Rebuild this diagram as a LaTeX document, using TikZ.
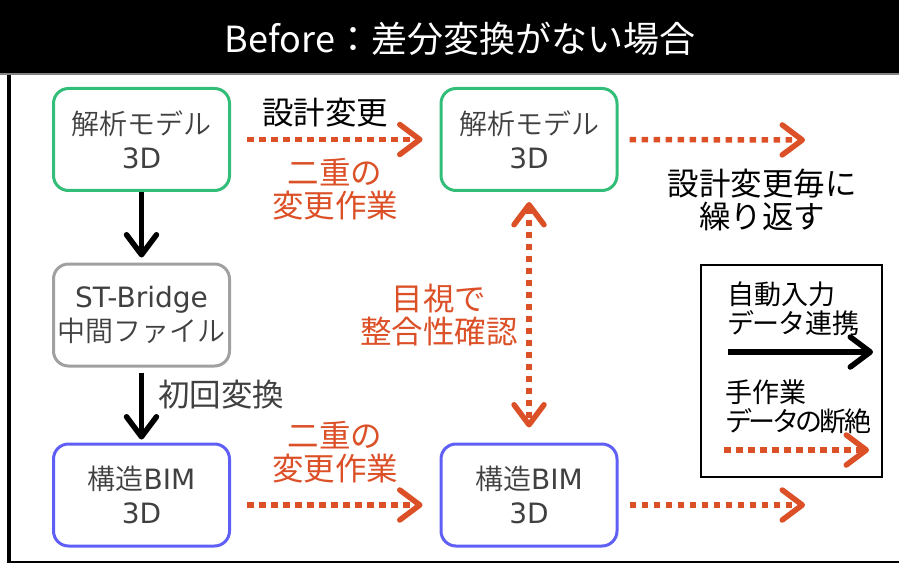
\documentclass[tikz,border=0pt]{standalone}
\usepackage{fontspec}
\setmainfont{Noto Sans CJK JP}
\newfontfamily\boxfont{Noto Sans CJK JP DemiLight}
\newfontfamily\latfont{DejaVu Sans}
\newcommand\mylat[1]{{\latfont #1}}
\usetikzlibrary{arrows.meta}
\definecolor{orng}{RGB}{220,80,40}
\definecolor{grn}{RGB}{50,190,120}
\definecolor{blu}{RGB}{95,95,245}
\definecolor{gbord}{RGB}{160,160,160}
\definecolor{txtgray}{RGB}{64,64,64}
\definecolor{hline}{RGB}{130,130,130}
\begin{document}
\begin{tikzpicture}[x=1pt,y=-1pt,
  box/.style={draw, rounded corners=15pt, line width=3pt, minimum width=176pt,
    minimum height=102pt, align=center, text=txtgray, inner sep=0pt,
    font=\boxfont\fontsize{28}{34}\selectfont},
  lbl/.style={align=center, inner sep=0pt, font=\fontsize{31.5}{33}\selectfont},
  leg/.style={align=left, anchor=west, inner sep=0pt, font=\fontsize{27}{29}\selectfont},
  tipb/.tip={Straight Barb[length=20pt, width=30pt, round]},
  solidarrow/.style={line width=5.5pt, draw=black, -tipb},
  dotarrow/.style={line width=5.5pt, draw=orng, dash pattern=on 6.5pt off 5.5pt, -tipb},
  dotdouble/.style={line width=5.5pt, draw=orng, dash pattern=on 6.5pt off 5.5pt, tipb-tipb}
]
\useasboundingbox (0,0) rectangle (899,564);
% frame
\fill[black] (0,0) rectangle (899,73);
\draw[hline, line width=2pt] (0,74) -- (899,74);
\draw[black, line width=4pt] (9,75) -- (9,561);
\draw[black, line width=2pt] (7,562) -- (899,562);
\node[text=white, inner sep=0pt, font=\fontsize{36}{40}\selectfont] (title) at (460,39) {Before：差分変換がない場合};
% boxes
\node[box, draw=grn] (A1) at (141.5,139.5) {解析モデル\\\mylat{3D}};
\node[box, draw=grn] (A2) at (529,139.5) {解析モデル\\\mylat{3D}};
\node[box, draw=gbord] (ST) at (141.5,315) {\mylat{ST-Bridge}\\中間ファイル};
\node[box, draw=blu] (B1) at (141.5,495) {構造\mylat{BIM}\\\mylat{3D}};
\node[box, draw=blu] (B2) at (529,495) {構造\mylat{BIM}\\\mylat{3D}};
% free ends
\coordinate (A2end) at (805,140);
\coordinate (B2end) at (805,505);
% connectors
\draw[solidarrow, shorten >=5pt] (A1) -- (ST);
\draw[solidarrow, shorten <=5pt, shorten >=3pt] (ST) -- (B1);
\draw[dotarrow, shorten <=16pt, shorten >=17pt] (A1.east) -- (A2.west);
\draw[dotarrow, shorten <=11pt] (A2.east) -- (A2end);
\draw[dotarrow, shorten <=16pt, shorten >=17pt] ([yshift=-10pt]B1.east) -- ([yshift=-10pt]B2.west);
\draw[dotarrow, shorten <=11pt] ([yshift=-10pt]B2.east) -- (B2end);
\draw[dotdouble, shorten <=10pt, shorten >=15pt] (A2.south) -- (B2.north);
% labels
\node[lbl] (l1) at (325,113) {設計変更};
\node[lbl, text=orng] (l2) at (335,189) {二重の\\変更作業};
\node[lbl] (l3) at (762,200) {設計変更毎に\\繰り返す};
\node[lbl, text=orng] (l4) at (439,315) {目視で\\整合性確認};
\node[lbl, text=txtgray, anchor=west] (l5) at (158,395) {初回変換};
\node[lbl, text=orng] (l6) at (335,452) {二重の\\変更作業};
% legend
\node[draw=black, line width=2pt, minimum width=181pt, minimum height=212pt, inner sep=0pt] (legend) at (791.5,371) {};
\node[leg] (g1) at (727,309) {自動入力\\デ\kern-1.5ptー\kern-1.5ptタ連携};
\coordinate (g1a) at (728,352);
\coordinate (g1b) at (873,352);
\draw[solidarrow] (g1a) -- (g1b);
\node[leg] (g2) at (725,407) {手作業\\デ\kern-3.5ptー\kern-3.5ptタ\kern-3.5ptの\kern-3.5pt断\kern-2pt絶};
\coordinate (g2a) at (724,450);
\coordinate (g2b) at (869,450);
\draw[dotarrow] (g2a) -- (g2b);
\end{tikzpicture}
\end{document}
